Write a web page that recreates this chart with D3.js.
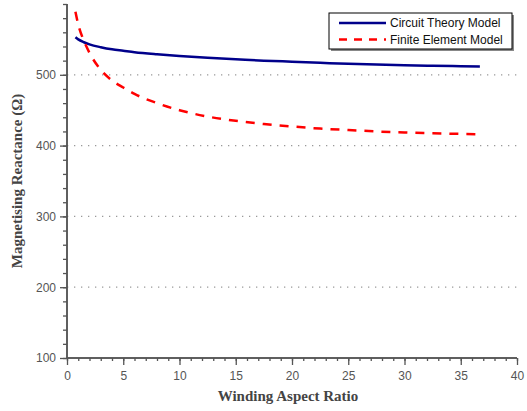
<!DOCTYPE html>
<html>
<head>
<meta charset="utf-8">
<script src="https://cdn.jsdelivr.net/npm/d3@7"></script>
<style>
  body { margin: 0; background: #fff; }
  svg { display: block; }
</style>
</head>
<body>
<div id="chart"></div>
<script>
// Data
const aspectRatio = [0.75, 1, 1.5, 2, 3, 4, 5, 6, 8, 10, 12.5, 15, 17.5, 20, 22.5, 25, 27.5, 30, 32.5, 35, 36.7];
const circuitTheory = [553, 550, 546, 543, 539, 536, 534, 532, 529, 526.5, 524, 522, 520, 518.5, 517, 515.5, 514.5, 513.5, 512.8, 512.2, 511.8];
const finiteElement = [589, 571, 548, 531, 507, 492, 482, 473, 460, 450, 441, 435, 430.5, 427, 424, 422, 420, 418.5, 417.5, 416.5, 416];
const seriesNames = ["Circuit Theory Model", "Finite Element Model"];
const xTicks = [0, 5, 10, 15, 20, 25, 30, 35, 40];
const yTicks = [100, 200, 300, 400, 500];

const W = 527, H = 411;
const margin = { top: 4, right: 10, bottom: 53, left: 67 };
const width = W - margin.left - margin.right;
const height = H - margin.top - margin.bottom;

const svg = d3.select("#chart").append("svg")
  .attr("width", W)
  .attr("height", H);

const g = svg.append("g")
  .attr("transform", `translate(${margin.left},${margin.top})`);

const x = d3.scaleLinear().domain([0, 40]).range([0, width]);
const y = d3.scaleLinear().domain([100, 600]).range([height, 0]);

const axisColor = "#555";

// gridlines
g.selectAll(".grid")
  .data(yTicks.filter(d => d > 100))
  .enter().append("line")
  .attr("x1", 0).attr("x2", width)
  .attr("y1", d => y(d)).attr("y2", d => y(d))
  .attr("stroke", "#999")
  .attr("stroke-width", 1.3)
  .attr("stroke-dasharray", "1.3,5.7");

// minor ticks
const xMinor = d3.range(0, 41, 1);
const yMinor = d3.range(100, 601, 20);

const xMinorAxis = g.append("g")
  .attr("transform", `translate(0,${height})`)
  .call(d3.axisBottom(x).tickValues(xMinor).tickSize(3).tickFormat(""));
const yMinorAxis = g.append("g")
  .call(d3.axisLeft(y).tickValues(yMinor).tickSize(4).tickFormat(""));

// major axes
const xAxis = g.append("g")
  .attr("transform", `translate(0,${height})`)
  .call(d3.axisBottom(x).tickValues(xTicks).tickSize(7).tickPadding(6));
const yAxis = g.append("g")
  .call(d3.axisLeft(y).tickValues(yTicks).tickSize(7).tickPadding(4));

[xMinorAxis, yMinorAxis, xAxis, yAxis].forEach(a => {
  a.select(".domain").attr("stroke", axisColor).attr("stroke-width", 1.5);
  a.selectAll("line").attr("stroke", axisColor).attr("stroke-width", 1.3);
  a.selectAll("text")
    .attr("fill", axisColor)
    .style("font-family", "'Liberation Sans', Arial, sans-serif")
    .style("font-size", "12px");
});
xMinorAxis.select(".domain").attr("d", `M0,0H${width}`);
yMinorAxis.select(".domain").attr("d", `M0,${height}V0`);
xAxis.select(".domain").attr("d", `M0,0H${width}`);
yAxis.select(".domain").attr("d", `M0,${height}V0`);

// lines
const ctData = aspectRatio.map((d, i) => ({ x: d, y: circuitTheory[i] }));
const feData = aspectRatio.map((d, i) => ({ x: d, y: finiteElement[i] }));

const line = d3.line()
  .x(d => x(d.x))
  .y(d => y(d.y))
  .curve(d3.curveMonotoneX);

g.append("path")
  .datum(ctData)
  .attr("fill", "none")
  .attr("stroke", "#00008b")
  .attr("stroke-width", 2.5)
  .attr("d", line);

g.append("path")
  .datum(feData)
  .attr("fill", "none")
  .attr("stroke", "#ff0000")
  .attr("stroke-width", 2.5)
  .attr("stroke-dasharray", "9,8")
  .attr("d", line);

// axis titles
svg.append("text")
  .attr("x", margin.left + width / 2 - 4)
  .attr("y", 401)
  .attr("text-anchor", "middle")
  .attr("fill", "#444")
  .style("font-family", "'Liberation Serif', 'Times New Roman', serif")
  .style("font-weight", "bold")
  .style("font-size", "15px")
  .text("Winding Aspect Ratio");

svg.append("text")
  .attr("transform", `translate(22,${margin.top + height / 2}) rotate(-90)`)
  .attr("text-anchor", "middle")
  .attr("fill", "#444")
  .style("font-family", "'Liberation Serif', 'Times New Roman', serif")
  .style("font-weight", "bold")
  .style("font-size", "15px")
  .text("Magnetising Reactance (Ω)");

// legend
const legend = svg.append("g").attr("transform", "translate(329,13)");
legend.append("rect")
  .attr("x", 2).attr("y", 2)
  .attr("width", 183).attr("height", 36)
  .attr("fill", "#888");
legend.append("rect")
  .attr("width", 183).attr("height", 36)
  .attr("fill", "#fff")
  .attr("stroke", "#000")
  .attr("stroke-width", 1);

const legendStyles = [
  { color: "#00008b", dash: null },
  { color: "#ff0000", dash: "8,7" }
];
seriesNames.forEach((name, i) => {
  const row = legend.append("g").attr("transform", `translate(0,${10 + i * 16.5})`);
  row.append("line")
    .attr("x1", 10).attr("x2", 57)
    .attr("stroke", legendStyles[i].color)
    .attr("stroke-width", 2.5)
    .attr("stroke-dasharray", legendStyles[i].dash);
  row.append("text")
    .attr("x", 61).attr("y", 0)
    .attr("dy", "0.35em")
    .attr("fill", "#111")
    .style("font-family", "'Liberation Sans', Arial, sans-serif")
    .style("font-size", "12px")
    .text(name);
});
</script>
</body>
</html>
